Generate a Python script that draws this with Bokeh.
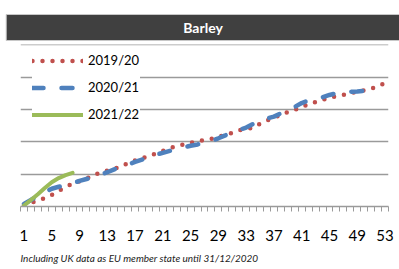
from bokeh.plotting import figure
from bokeh.models import FixedTicker, Range1d, Title, BoxAnnotation
from bokeh.embed import file_html
from bokeh.resources import INLINE

weeks_1920 = list(range(1, 54))
vals_1920 = [0.05, 0.12, 0.18, 0.26, 0.36, 0.48, 0.61, 0.70, 0.78, 0.86,
             0.97, 1.05, 1.11, 1.17, 1.23, 1.35, 1.42, 1.49, 1.56, 1.64,
             1.72, 1.80, 1.87, 1.92, 1.97, 2.02, 2.05, 2.09, 2.16, 2.21,
             2.28, 2.36, 2.40, 2.43, 2.56, 2.66, 2.74, 2.84, 2.92, 2.99,
             3.08, 3.16, 3.23, 3.30, 3.37, 3.41, 3.45, 3.51, 3.55, 3.59,
             3.64, 3.72, 3.82]
weeks_2021 = list(range(1, 53))
vals_2021 = [0.08, 0.20, 0.33, 0.45, 0.55, 0.61, 0.65, 0.72, 0.79, 0.85,
             0.90, 0.98, 1.06, 1.15, 1.23, 1.30, 1.38, 1.45, 1.52, 1.60,
             1.66, 1.72, 1.78, 1.83, 1.88, 1.92, 1.97, 2.03, 2.11, 2.20,
             2.30, 2.37, 2.44, 2.55, 2.67, 2.72, 2.78, 2.88, 2.97, 3.08,
             3.20, 3.28, 3.32, 3.38, 3.45, 3.50, 3.53, 3.55, 3.56, 3.58,
             3.62, 3.66]
weeks_2122 = list(range(1, 9))
vals_2122 = [0.03, 0.20, 0.38, 0.57, 0.75, 0.88, 0.97, 1.04]

tick_weeks = list(range(1, 54, 4))
title_text = "Barley"
footnote = "Including UK data as EU member state until 31/12/2020"

FONT = "Lato"

p = figure(width=399, height=269, output_backend="svg", toolbar_location=None,
           x_range=Range1d(0.5, 53.5), y_range=Range1d(0, 5.01),
           y_axis_location=None, min_border_left=20, min_border_right=11,
           min_border_top=44, min_border_bottom=62)
p.outline_line_color = None
p.background_fill_color = "white"
p.border_fill_color = "white"

p.title.text = title_text
p.title.align = "center"
p.title.offset = 3
p.title.text_color = "white"
p.title.text_font = FONT
p.title.text_font_style = "bold"
p.title.text_font_size = "14px"
p.title.background_fill_color = "#404040"
p.title.border_line_color = "#c8c8c8"
p.title.padding = dict(left=177, right=180, top=4, bottom=5)
p.title.standoff = 8

p.add_layout(Title(text=footnote, align="left", text_font=FONT,
                   text_font_style="italic", text_font_size="10px",
                   text_color="#222222", standoff=12), "below")

p.add_layout(BoxAnnotation(left=-16.5, right=420, top=201.5, bottom=-80,
                           left_units="screen", right_units="screen",
                           top_units="screen", bottom_units="screen",
                           fill_alpha=0, line_color="#a6a6a6", line_width=1.5))

p.xgrid.visible = False
p.ygrid.ticker = FixedTicker(ticks=[1, 2, 3, 4, 5])
p.ygrid.grid_line_color = "#9a9a9a"
p.ygrid.grid_line_width = 1.3

ax = p.xaxis[0]
ax.ticker = FixedTicker(ticks=tick_weeks, minor_ticks=[w + 0.5 for w in range(0, 54)])
ax.axis_line_color = "#9a9a9a"
ax.axis_line_width = 1.3
ax.major_tick_out = 0
ax.major_tick_in = 0
ax.minor_tick_out = 5
ax.minor_tick_in = 0
ax.minor_tick_line_color = "#9a9a9a"
ax.major_label_text_font = FONT
ax.major_label_text_font_size = "15px"
ax.major_label_text_color = "black"
ax.major_label_standoff = 18

p.line(weeks_1920, vals_1920, line_color="#c0504d", line_width=4.5,
       line_dash="0 10", line_cap="round", legend_label="2019/20")
p.line(weeks_2021, vals_2021, line_color="#4f81bd", line_width=4.5,
       line_dash="11 18", line_cap="round", legend_label="2020/21")
p.line(weeks_2122, vals_2122, line_color="#9bbb59", line_width=4,
       line_cap="round", legend_label="2021/22")

lg = p.legend[0]
lg.location = (12, 84)
lg.margin = 0
lg.padding = 11
lg.spacing = 11
lg.glyph_width = 51
lg.glyph_height = 15
lg.label_height = 15
lg.label_width = 52
lg.label_standoff = 5
lg.label_text_font = FONT
lg.label_text_font_size = "13px"
lg.label_text_color = "black"
lg.border_line_color = None
lg.background_fill_color = "white"
lg.background_fill_alpha = 1

open("out.html", "w").write(file_html(p, INLINE))
